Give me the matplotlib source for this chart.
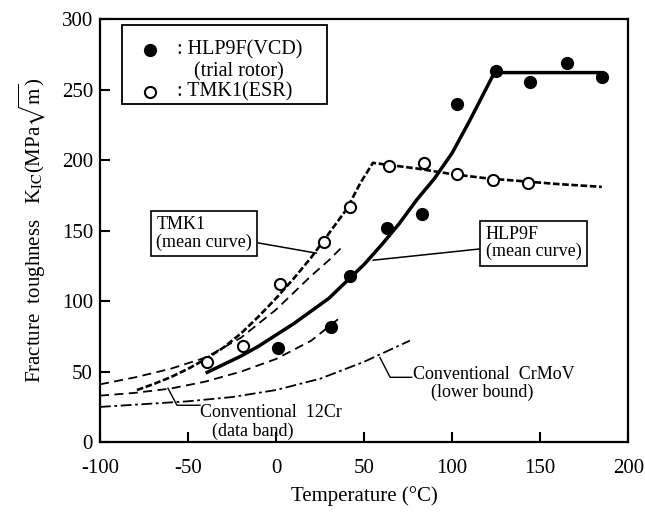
import numpy as np
import matplotlib
matplotlib.use("Agg")
import matplotlib.pyplot as plt
from matplotlib.patches import Rectangle

plt.rcParams['font.family'] = ['Liberation Serif', 'DejaVu Serif']
plt.rcParams['mathtext.fontset'] = 'stix'
plt.rcParams['axes.unicode_minus'] = False

# ---- measured points ----
hlp_t = [1, 31, 42, 63, 83, 103, 125, 144, 165, 185]
hlp_k = [67, 82, 118, 152, 162, 240, 263, 255, 269, 259]

tmk_t = [-39, -19, 2, 27, 42, 64, 84, 103, 123, 143]
tmk_k = [57, 68, 112, 142, 167, 196, 198, 190, 186, 184]

# ---- curves ----
hlp_curve_t = [-40, -30, -20, -10, 0, 10, 20, 30, 40, 50, 60, 70, 80, 90, 100, 110, 124, 185]
hlp_curve_k = [49, 55, 61, 68, 76, 84, 93, 102, 114, 126, 140, 155, 172, 187, 205, 228, 262, 262]

tmk_curve_t = [-79, -70, -60, -50, -40, -30, -20, -10, 0, 10, 20, 30, 40, 48, 55,
               80, 100, 120, 140, 160, 185]
tmk_curve_k = [37, 41, 46, 52, 59, 67, 77, 89, 102, 116, 131, 148, 165, 184, 198,
               194, 190, 187, 185, 183, 181]

band_hi_t = [-100, -80, -60, -40, -20, 0, 10, 20, 30, 38]
band_hi_k = [41, 46, 52, 60, 74, 94, 106, 118, 129, 139]

band_lo_t = [-100, -80, -60, -40, -20, 0, 20, 36]
band_lo_k = [33, 35, 38, 43, 50, 59, 72, 88]

crmov_t = [-100, -75, -50, -25, 0, 25, 50, 76]
crmov_k = [25, 27, 29, 32, 37, 45, 57, 72]

fig = plt.figure(figsize=(6.45, 5.13), dpi=100)
ax = fig.add_axes([0.155, 0.138, 0.819, 0.825])

ax.plot(band_hi_t, band_hi_k, color='black', lw=1.3, dashes=(5, 3))
ax.plot(band_lo_t, band_lo_k, color='black', lw=1.3, dashes=(5, 3))
ax.plot(crmov_t, crmov_k, color='black', lw=1.3, dashes=(6, 2, 1.5, 2))
ax.plot(tmk_curve_t, tmk_curve_k, color='black', lw=1.9, dashes=(2.5, 1))
ax.plot(hlp_curve_t, hlp_curve_k, color='black', lw=2.5, solid_capstyle='butt')

ax.plot(hlp_t, hlp_k, 'o', color='black', ms=8.5)
ax.plot(tmk_t, tmk_k, 'o', mfc='white', mec='black', mew=1.5, ms=8)

ax.set_xlim(-100, 200)
ax.set_ylim(0, 300)
ax.set_xticks([-100, -50, 0, 50, 100, 150, 200])
ax.set_yticks([0, 50, 100, 150, 200, 250, 300])
ax.tick_params(direction='in', length=7, width=1.5, labelsize=15)
ax.tick_params(axis='x', pad=12)
ax.tick_params(axis='y', pad=5)
for s in ax.spines.values():
    s.set_linewidth(1.6)

ax.set_xlabel('Temperature (°C)', fontsize=15, labelpad=6)
ax.set_ylabel(r'Fracture  toughness   K$_{\rm IC}$(MPa$\sqrt{\rm m}$)', fontsize=15, labelpad=10)

# legend box
ax.add_patch(Rectangle((0.042, 0.799), 0.388, 0.187, transform=ax.transAxes,
                       fill=False, ec='black', lw=1.3))
ax.plot([0.095], [0.927], 'o', color='black', ms=8.5, transform=ax.transAxes)
ax.plot([0.095], [0.827], 'o', mfc='white', mec='black', mew=1.5, ms=8, transform=ax.transAxes)
ax.text(0.145, 0.927, ': HLP9F(VCD)', transform=ax.transAxes, fontsize=14.5, va='center')
ax.text(0.262, 0.875, '(trial rotor)', transform=ax.transAxes, fontsize=14.5, va='center', ha='center')
ax.text(0.145, 0.827, ': TMK1(ESR)', transform=ax.transAxes, fontsize=14.5, va='center')

# boxed labels
box = dict(boxstyle='square,pad=0.3', fc='white', ec='black', lw=1.2)
ax.annotate('TMK1\n(mean curve)', xy=(23, 134), xytext=(-68, 148), fontsize=13,
            va='center', ha='left', bbox=box, linespacing=1.0,
            arrowprops=dict(arrowstyle='-', color='black', lw=1.1, shrinkA=0, shrinkB=0))
ax.annotate('HLP9F\n(mean curve)', xy=(55, 129), xytext=(119, 141), fontsize=13,
            va='center', ha='left', bbox=box, linespacing=1.0,
            arrowprops=dict(arrowstyle='-', color='black', lw=1.1, shrinkA=0, shrinkB=0))

# leader lines for the conventional steels
ax.plot([59, 64.8, 77], [60, 46, 46], color='black', lw=1.0)
ax.text(78, 48, 'Conventional  CrMoV', fontsize=13, va='center', ha='left')
ax.text(117, 35, '(lower bound)', fontsize=13, va='center', ha='center')

ax.plot([-61.4, -56.3, -43.2], [38.3, 26.2, 26.2], color='black', lw=1.0)
ax.text(-43, 21, 'Conventional  12Cr', fontsize=13, va='center', ha='left')
ax.text(-13, 8, '(data band)', fontsize=13, va='center', ha='center')

fig.savefig('out.png', dpi=100)
